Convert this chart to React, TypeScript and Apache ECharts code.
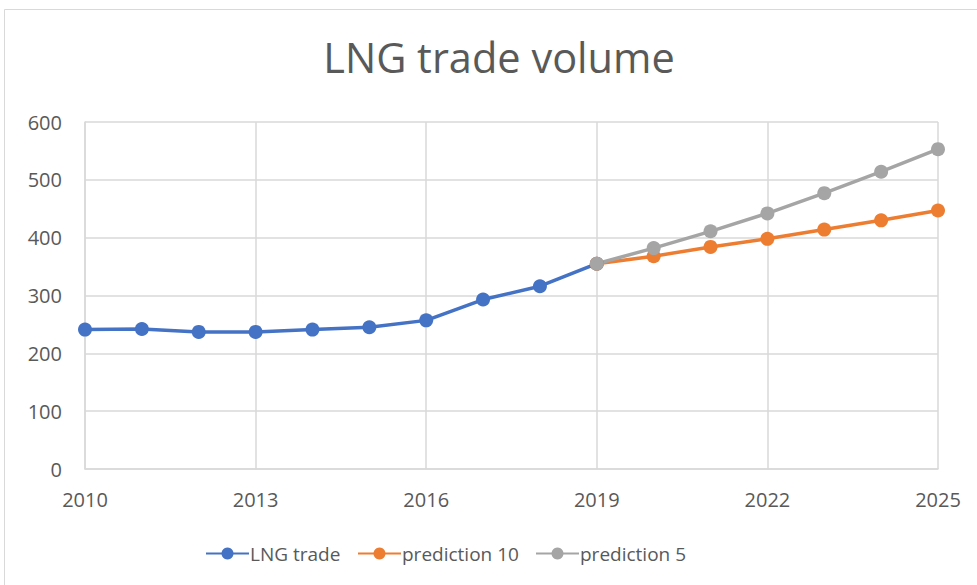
import React, { useEffect, useRef } from "react";
import * as echarts from "echarts";

const years = [2010, 2011, 2012, 2013, 2014, 2015, 2016, 2017, 2018, 2019, 2020, 2021, 2022, 2023, 2024, 2025];
const lngYears = [2010, 2011, 2012, 2013, 2014, 2015, 2016, 2017, 2018, 2019];
const lngTrade = [241, 242, 237, 237, 241, 245, 257, 293, 316, 355];
const predYears = [2019, 2020, 2021, 2022, 2023, 2024, 2025];
const prediction10 = [355, 368, 384, 398, 414, 430, 447];
const prediction5 = [355, 382, 411, 442, 477, 514, 553];
const seriesNames = ["LNG trade", "prediction 10", "prediction 5"];
const colors = ["#4472C4", "#ED7D31", "#A5A5A5"];

const FONT = "'Open Sans', sans-serif";
const TEXT = "#595959";
const GRID = "#D9D9D9";
const legendLefts = [200, 352, 530];

function pairs(xs: number[], ys: number[]) {
  return xs.map((x, i) => [x, ys[i]]);
}

export default function App() {
  const ref = useRef<HTMLDivElement>(null);
  useEffect(() => {
    if (!ref.current) return;
    const chart = echarts.init(ref.current, undefined, { renderer: "svg" });
    const mk = (name: string, data: number[][], color: string) => ({
      name,
      type: "line",
      data,
      symbol: "circle",
      symbolSize: 14,
      lineStyle: { width: 3.5, color },
      itemStyle: { color },
      color,
    });
    chart.setOption({
      animation: false,
      backgroundColor: "#fff",
      title: {
        text: "LNG trade volume",
        left: 494,
        top: 31,
        textAlign: "center",
        textStyle: { fontFamily: FONT, fontSize: 41.5, fontWeight: "normal", color: TEXT },
      },
      graphic: [
        {
          type: "rect",
          shape: { x: 4.5, y: 9.5, width: 1000, height: 600 },
          style: { fill: "none", stroke: GRID, lineWidth: 1 },
          silent: true,
        },
      ],
      legend: seriesNames.map((n, i) => ({
        left: legendLefts[i],
        top: 539,
        itemWidth: 43,
        itemHeight: 15,
        data: [n],
        textStyle: { fontFamily: FONT, fontSize: 19, color: TEXT, padding: [0, 0, 0, -4] },
      })),
      grid: { left: 85, right: 39, top: 122, bottom: 116, containLabel: false },
      xAxis: {
        type: "value",
        min: years[0],
        max: years[years.length - 1],
        interval: 3,
        axisLine: { show: true, lineStyle: { color: GRID, width: 1.5 } },
        axisTick: { show: false },
        splitLine: { show: true, lineStyle: { color: GRID, width: 1.5 } },
        axisLabel: {
          fontFamily: FONT,
          fontSize: 20,
          color: TEXT,
          margin: 20,
          formatter: (v: number) => String(v),
        },
      },
      yAxis: {
        type: "value",
        min: 0,
        max: 600,
        interval: 100,
        axisLine: { show: true, lineStyle: { color: GRID, width: 1.5 } },
        axisTick: { show: false },
        splitLine: { show: true, lineStyle: { color: GRID, width: 1.5 } },
        axisLabel: { fontFamily: FONT, fontSize: 20, color: TEXT, margin: 23 },
      },
      series: [
        mk(seriesNames[0], pairs(lngYears, lngTrade), colors[0]),
        mk(seriesNames[1], pairs(predYears, prediction10), colors[1]),
        mk(seriesNames[2], pairs(predYears, prediction5), colors[2]),
      ],
    });
    return () => chart.dispose();
  }, []);
  return (
    <div style={{ position: "fixed", left: 0, top: 0, width: 977, height: 585, background: "#fff" }}>
      <div ref={ref} style={{ width: 977, height: 585 }} />
    </div>
  );
}
